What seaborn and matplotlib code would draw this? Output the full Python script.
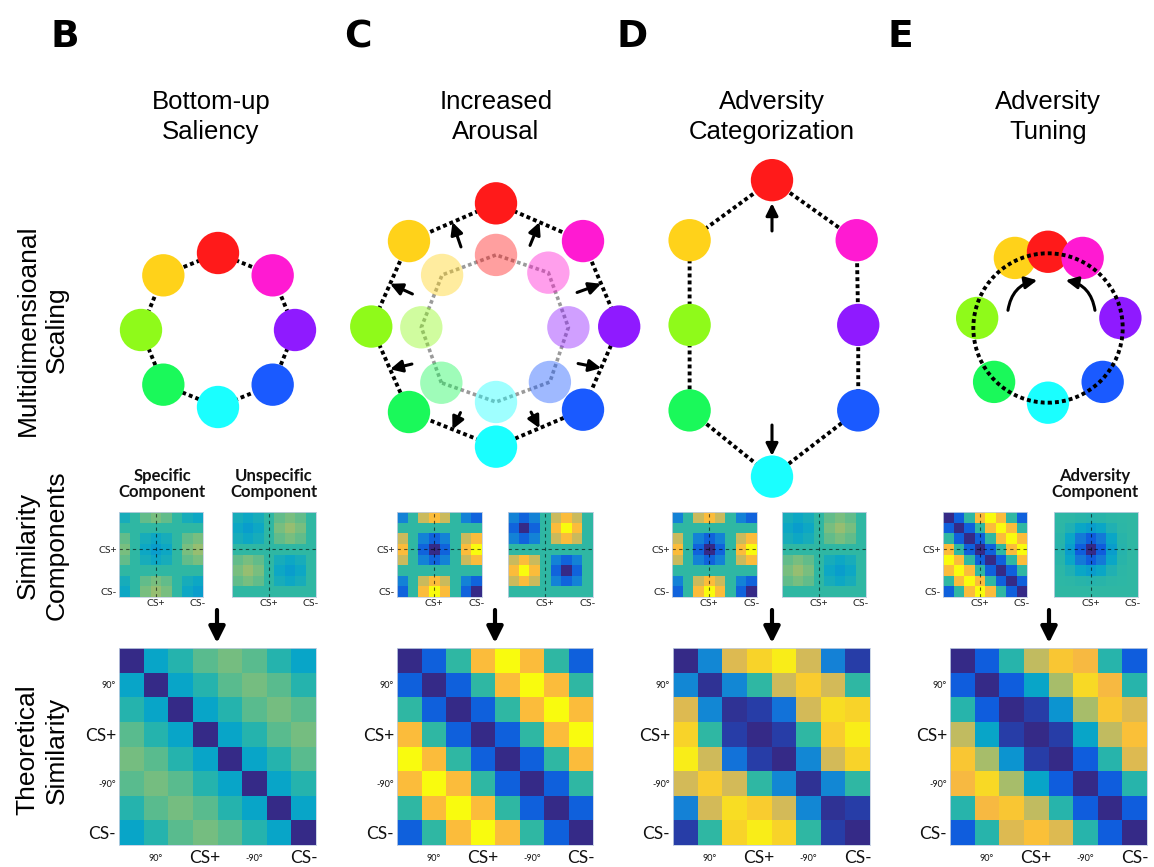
import numpy as np
import pandas as pd
import matplotlib
matplotlib.use("Agg")
import matplotlib.pyplot as plt
import seaborn as sns
from matplotlib.colors import LinearSegmentedColormap
from matplotlib.patches import Circle

sns.set_theme(style="white")
plt.rcParams["font.family"] = ["Liberation Sans", "DejaVu Sans"]
plt.rcParams["text.color"] = "black"
plt.rcParams["xtick.color"] = "black"
plt.rcParams["ytick.color"] = "black"

# ---------------------------------------------------------------- data
# eight stimuli around the colour wheel; CS+ is index 3, CS- is index 7
stimulus_names = ["s135", "s90", "s45", "CS+", "s-45", "s-90", "s-135", "CS-"]
stimulus_colors = ["#1AF95A", "#8FFA1A", "#FFD21A", "#FF1A1A",
                   "#FF1AD2", "#8F1AFF", "#1A5AFF", "#1AFFFF"]

# MDS coordinates (x, y) per model
saliency_x = [-0.71, -1.00, -0.71, 0.00, 0.71, 1.00, 0.71, 0.00]
saliency_y = [-0.71, 0.00, 0.71, 1.00, 0.71, 0.00, -0.71, -1.00]

arousal_inner_x = [-0.71, -0.97, -0.70, 0.00, 0.68, 0.94, 0.70, 0.00]
arousal_inner_y = [-0.75, -0.03, 0.65, 0.91, 0.68, -0.03, -0.74, -1.00]
arousal_outer_x = [-1.13, -1.62, -1.13, 0.00, 1.13, 1.60, 1.13, 0.00]
arousal_outer_y = [-1.13, -0.02, 1.09, 1.58, 1.09, -0.02, -1.10, -1.58]

categorization_x = [-1.07, -1.07, -1.07, 0.00, 1.10, 1.12, 1.12, 0.00]
categorization_y = [-1.07, 0.04, 1.14, 1.92, 1.14, 0.04, -1.07, -1.93]

tuning_x = [-0.70, -0.92, -0.43, 0.00, 0.45, 0.94, 0.71, 0.00]
tuning_y = [-0.70, 0.13, 0.91, 0.99, 0.91, 0.13, -0.70, -0.97]
tuning_ring_radius = 0.97

# theoretical dissimilarity by circular distance (0..4 steps)
saliency_by_distance = [0.00, 0.38, 0.47, 0.56, 0.60]
arousal_by_distance = [0.00, 0.14, 0.50, 0.85, 1.00]

categorization_rdm = [
    [0.00, 0.27, 0.78, 0.92, 0.97, 0.76, 0.25, 0.05],
    [0.27, 0.02, 0.27, 0.50, 0.75, 0.90, 0.76, 0.50],
    [0.78, 0.27, 0.02, 0.05, 0.20, 0.76, 0.94, 0.92],
    [0.92, 0.50, 0.05, 0.00, 0.05, 0.50, 0.90, 0.97],
    [0.97, 0.75, 0.20, 0.05, 0.00, 0.27, 0.76, 0.92],
    [0.76, 0.90, 0.76, 0.50, 0.27, 0.02, 0.27, 0.50],
    [0.25, 0.76, 0.94, 0.90, 0.76, 0.27, 0.02, 0.05],
    [0.05, 0.50, 0.92, 0.97, 0.92, 0.50, 0.05, 0.00],
]
tuning_rdm = [
    [0.00, 0.13, 0.48, 0.73, 0.88, 0.83, 0.48, 0.13],
    [0.13, 0.00, 0.13, 0.38, 0.68, 0.93, 0.83, 0.48],
    [0.48, 0.13, 0.00, 0.05, 0.32, 0.68, 0.88, 0.78],
    [0.73, 0.38, 0.05, 0.00, 0.05, 0.38, 0.73, 0.86],
    [0.88, 0.68, 0.32, 0.05, 0.00, 0.13, 0.48, 0.78],
    [0.83, 0.93, 0.68, 0.38, 0.13, 0.00, 0.13, 0.48],
    [0.48, 0.83, 0.88, 0.73, 0.48, 0.13, 0.00, 0.13],
    [0.13, 0.48, 0.78, 0.86, 0.78, 0.48, 0.13, 0.00],
]

# similarity-component profiles and their weights per model
specific_profile = [-0.7, 0.0, 0.7, 1.0, 0.7, 0.0, -0.7, -1.0]
unspecific_profile = [-0.7, -1.0, -0.7, 0.0, 0.7, 1.0, 0.7, 0.0]
adversity_profile = [0.05, 0.30, 0.74, 1.00, 0.74, 0.30, 0.05, 0.00]
saliency_weights = (0.15, 0.15)
arousal_weights = (0.5, 0.5)
categorization_weights = (0.5, 0.15)
adversity_weight = 0.5

titles = ["Bottom-up\nSaliency", "Increased\nArousal",
          "Adversity\nCategorization", "Adversity\nTuning"]
panel_letters = ["B", "C", "D", "E"]
row_labels = ["Multidimensioanal\nScaling", "Similarity\nComponents",
              "Theoretical\nSimilarity"]
rdm_tick_labels = ["90°", "CS+", "-90°", "CS-"]
component_tick_labels = ["CS+", "CS-"]

# ---------------------------------------------------------------- helpers
parula = LinearSegmentedColormap.from_list("parula_like", [
    (0.000, "#352A87"), (0.125, "#0F5CDD"), (0.250, "#1481D6"),
    (0.375, "#06A4CA"), (0.500, "#2EB7A4"), (0.625, "#87BF77"),
    (0.750, "#CDBA5B"), (0.840, "#FBB93E"), (0.920, "#F8D22A"),
    (1.000, "#F9FB0E")])


def circulant(by_distance):
    idx = np.arange(8)
    d = np.abs(idx[:, None] - idx[None, :])
    d = np.minimum(d, 8 - d)
    return np.asarray(by_distance)[d]


def component(profile, weight):
    p = np.asarray(profile)
    return 0.5 - weight * np.outer(p, p)


W, H = 1154, 867
fig = plt.figure(figsize=(W / 100, H / 100), dpi=100)
fig.patch.set_facecolor("white")


def px_axes(x0, y0, x1, y1):
    return fig.add_axes([x0 / W, 1 - y1 / H, (x1 - x0) / W, (y1 - y0) / H])


UNIT = 77.0
MARKER_S = 930
DOTS = (0, (1, 0.8))


def mds_axes(cx, cy, hw=150, hh=185):
    ax = px_axes(cx - hw, cy - hh, cx + hw, cy + hh)
    ax.patch.set_alpha(0)
    return ax, (hw / UNIT, hh / UNIT)


def finish_mds(ax, lims):
    ax.set_xlim(-lims[0], lims[0])
    ax.set_ylim(-lims[1], lims[1])
    ax.set_xlabel("")
    ax.set_ylabel("")
    ax.axis("off")


def draw_stimuli(ax, x, y, alpha=1.0, zorder=3):
    df = pd.DataFrame({"x": x, "y": y, "stimulus": stimulus_names})
    sns.scatterplot(data=df, x="x", y="y", hue="stimulus",
                    hue_order=stimulus_names, palette=stimulus_colors,
                    s=MARKER_S, linewidth=0, alpha=alpha, legend=False,
                    ax=ax, zorder=zorder, clip_on=False)


def draw_loop(ax, x, y, color="black", lw=2.8, zorder=1):
    xs = list(x) + [x[0]]
    ys = list(y) + [y[0]]
    ax.plot(xs, ys, color=color, lw=lw, ls=DOTS, zorder=zorder,
            dash_capstyle="butt")


def arrow(ax, tail, tip, lw=2.2, scale=18, rad=0.0):
    ax.annotate("", xy=tip, xytext=tail,
                arrowprops=dict(arrowstyle="-|>", color="black", lw=lw,
                                mutation_scale=scale, shrinkA=0, shrinkB=0,
                                connectionstyle=f"arc3,rad={rad}"),
                zorder=5)


def frame(ax):
    for sp in ax.spines.values():
        sp.set_visible(True)
        sp.set_color("#c3cfe2")
        sp.set_linewidth(0.6)


def draw_rdm(ax, mat):
    sns.heatmap(np.asarray(mat), ax=ax, cmap=parula, vmin=0, vmax=1,
                cbar=False, xticklabels=False, yticklabels=False)
    ticks = [1.5, 3.5, 5.5, 7.5]
    sizes = [6.5, 12.5, 6.5, 12.5]
    ax.set_xticks(ticks)
    ax.set_xticklabels(rdm_tick_labels)
    ax.set_yticks(ticks)
    ax.set_yticklabels(rdm_tick_labels, rotation=0)
    for t, s in zip(ax.get_xticklabels(), sizes):
        t.set_fontsize(s)
        t.set_va("center")
        t.set_family(["Lato", "DejaVu Sans"])
        t.set_color("#111111")
    for t, s in zip(ax.get_yticklabels(), sizes):
        t.set_fontsize(s)
        t.set_family(["Lato", "DejaVu Sans"])
        t.set_color("#111111")
    ax.tick_params(axis="x", length=0, pad=9.5)
    ax.tick_params(axis="y", length=0, pad=2)
    frame(ax)


def draw_component(ax, mat, ylabels):
    sns.heatmap(np.asarray(mat), ax=ax, cmap=parula, vmin=0, vmax=1,
                cbar=False, xticklabels=False, yticklabels=False)
    ax.axhline(3.5, color="black", ls=(0, (3, 3)), lw=0.8, alpha=0.6)
    ax.axvline(3.5, color="black", ls=(0, (3, 3)), lw=0.8, alpha=0.6)
    ax.set_xticks([3.5, 7.5])
    ax.set_xticklabels(component_tick_labels, fontsize=7.5,
                       family=["Lato", "DejaVu Sans"], color="#222222")
    if ylabels:
        ax.set_yticks([3.5, 7.5])
        ax.set_yticklabels(component_tick_labels, rotation=0, fontsize=7.5,
                           family=["Lato", "DejaVu Sans"], color="#222222")
    ax.tick_params(length=0, pad=1.5)
    frame(ax)


# ---------------------------------------------------------------- header text
col_centers = [211, 496, 772, 1048]
letter_x = [50, 344, 616, 888]
for lx, letter in zip(letter_x, panel_letters):
    fig.text(lx / W, 1 - 37 / H, letter, fontsize=27, fontweight="heavy",
             family="DejaVu Sans", ha="left", va="center", color="black")
for cx, title in zip(col_centers, titles):
    fig.text(cx / W, 1 - 117 / H, title, fontsize=18.5, ha="center",
             va="center", linespacing=1.3, color="black")
for cy, label in zip([330, 545, 750], row_labels):
    fig.text(42 / W, 1 - cy / H, label, fontsize=19, rotation=90,
             ha="center", va="center", linespacing=1.25,
             multialignment="center", color="black")

# ---------------------------------------------------------------- MDS row
# Bottom-up saliency
ax, lims = mds_axes(218, 330)
draw_loop(ax, saliency_x, saliency_y)
draw_stimuli(ax, saliency_x, saliency_y)
finish_mds(ax, lims)

# Increased arousal: pale inner ring expands to the outer ring
ax, lims = mds_axes(496, 325)
draw_loop(ax, arousal_inner_x, arousal_inner_y, color="#9a9a9a", lw=2.6)
draw_loop(ax, arousal_outer_x, arousal_outer_y)
draw_stimuli(ax, arousal_inner_x, arousal_inner_y, alpha=0.42)
draw_stimuli(ax, arousal_outer_x, arousal_outer_y)
ix, iy = np.asarray(arousal_inner_x), np.asarray(arousal_inner_y)
ox, oy = np.asarray(arousal_outer_x), np.asarray(arousal_outer_y)
for i in range(8):
    j = (i + 1) % 8
    tail = (1.30 * (ix[i] + ix[j]) / 2, 1.30 * (iy[i] + iy[j]) / 2)
    tip = ((ox[i] + ox[j]) / 2, (oy[i] + oy[j]) / 2)
    arrow(ax, tail, tip)
finish_mds(ax, lims)

# Adversity categorization: CS+ and CS- pushed apart
ax, lims = mds_axes(772, 328)
draw_loop(ax, categorization_x, categorization_y)
draw_stimuli(ax, categorization_x, categorization_y)
arrow(ax, (0, 1.26), (0, 1.62))
arrow(ax, (0, -1.26), (0, -1.66))
finish_mds(ax, lims)

# Adversity tuning: neighbours drawn toward CS+
ax, lims = mds_axes(1048, 328)
draw_stimuli(ax, tuning_x, tuning_y)
ax.add_patch(Circle((0, 0), tuning_ring_radius, fill=False, ec="black",
                    lw=2.8, ls=DOTS, zorder=4))
arrow(ax, (-0.52, 0.23), (-0.14, 0.62), lw=2.2, scale=18, rad=-0.35)
arrow(ax, (0.61, 0.23), (0.23, 0.62), lw=2.2, scale=18, rad=0.35)
finish_mds(ax, lims)

# ---------------------------------------------------------------- components
comp_y = (512, 597)
comp_boxes = [(119, 203), (232, 316), (397, 482), (508, 593),
              (672, 757), (782, 866), (943, 1027), (1054, 1138)]
comp_mats = [
    component(specific_profile, saliency_weights[0]),
    component(unspecific_profile, saliency_weights[1]),
    component(specific_profile, arousal_weights[0]),
    component(unspecific_profile, arousal_weights[1]),
    component(specific_profile, categorization_weights[0]),
    component(unspecific_profile, categorization_weights[1]),
    circulant(arousal_by_distance),
    component(adversity_profile, adversity_weight),
]
for k, ((x0, x1), mat) in enumerate(zip(comp_boxes, comp_mats)):
    ax = px_axes(x0, comp_y[0], x1, comp_y[1])
    draw_component(ax, mat, ylabels=(k % 2 == 0))

for cx, txt in [(162, "Specific\nComponent"), (274, "Unspecific\nComponent"),
                (1095, "Adversity\nComponent")]:
    fig.text(cx / W, 1 - 484 / H, txt, fontsize=12, fontweight="bold",
             family=["Lato", "DejaVu Sans"], ha="center", va="center",
             linespacing=1.05, color="#111111")

# ---------------------------------------------------------------- theoretical RDMs
rdm_y = (648, 845)
rdm_boxes = [(119, 316), (397, 593), (673, 870), (950, 1147)]
rdms = [circulant(saliency_by_distance), circulant(arousal_by_distance),
        categorization_rdm, tuning_rdm]
for (x0, x1), mat in zip(rdm_boxes, rdms):
    ax = px_axes(x0, rdm_y[0], x1, rdm_y[1])
    draw_rdm(ax, mat)

# ---------------------------------------------------------------- flow arrows
over = fig.add_axes([0, 0, 1, 1])
over.set_xlim(0, W)
over.set_ylim(H, 0)
over.axis("off")
over.patch.set_alpha(0)
for cx in [217, 495, 772, 1049]:
    over.annotate("", xy=(cx, 643), xytext=(cx, 610),
                  arrowprops=dict(arrowstyle="-|>", color="black", lw=3,
                                  mutation_scale=24, shrinkA=0, shrinkB=0))

fig.savefig("out.png", dpi=100, facecolor="white")
